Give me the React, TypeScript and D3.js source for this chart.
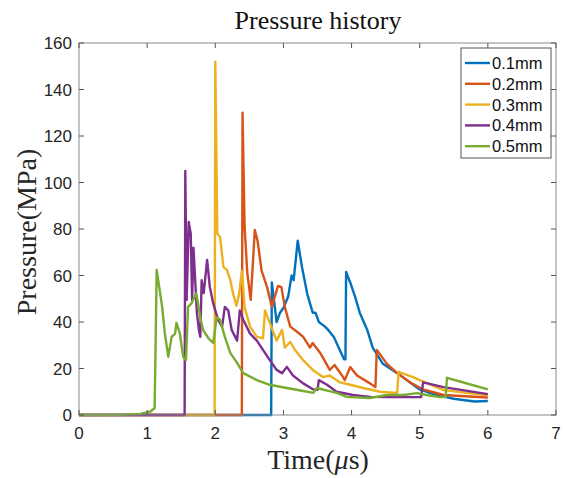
import React from 'react';
import * as d3 from 'd3';

// series: [time (us), pressure (MPa)]
const p01: [number, number][] = [
  [0, 0], [2.82, 0], [2.83, 57], [2.9, 40], [2.95, 44], [3.0, 46], [3.07, 51], [3.12, 60], [3.15, 58],
  [3.21, 75], [3.27, 64], [3.35, 52], [3.43, 44], [3.47, 44], [3.52, 40], [3.61, 38], [3.66, 36.5],
  [3.74, 33.6], [3.81, 29], [3.89, 24], [3.91, 24], [3.92, 61.5], [3.98, 57], [4.05, 51], [4.12, 44],
  [4.23, 36.6], [4.31, 29], [4.46, 22], [4.67, 18], [5.0, 11], [5.2, 9], [5.5, 7], [5.8, 5.8], [6.0, 6],
];
const p02: [number, number][] = [
  [0, 0], [2.39, 0], [2.4, 130], [2.43, 81], [2.47, 61], [2.52, 49.5], [2.58, 79.6], [2.62, 75],
  [2.68, 62], [2.76, 55], [2.83, 46.5], [2.92, 55.5], [2.97, 55], [3.02, 46.5], [3.1, 38], [3.2, 35.8],
  [3.29, 33.6], [3.39, 29], [3.43, 31], [3.54, 26.7], [3.68, 19.4], [3.75, 21.5], [3.86, 17], [3.9, 15],
  [3.98, 20.6], [4.08, 17], [4.27, 13.6], [4.35, 12], [4.37, 28], [4.52, 22], [4.67, 18], [4.86, 14],
  [5.05, 11], [5.35, 8.6], [6.0, 7.5],
];
const p03: [number, number][] = [
  [0, 0], [1.99, 0], [2.0, 152], [2.03, 78], [2.07, 76.6], [2.12, 63.6], [2.17, 62.4], [2.22, 58],
  [2.26, 52.4], [2.31, 47], [2.35, 52], [2.39, 62], [2.43, 46.5], [2.51, 38], [2.61, 33.6], [2.7, 33],
  [2.73, 45], [2.8, 39.6], [2.9, 32], [2.98, 36.6], [3.02, 29], [3.1, 31.4], [3.17, 28], [3.29, 23.6],
  [3.43, 19.4], [3.58, 16.3], [3.68, 17], [3.83, 14], [3.98, 13], [4.17, 11.6], [4.42, 10], [4.6, 9.6],
  [4.67, 9.6], [4.69, 18.6], [4.9, 16.3], [5.0, 15], [5.35, 10.7], [6.0, 8.5],
];
const p04: [number, number][] = [
  [0, 0], [1.55, 0], [1.56, 105], [1.58, 49.5], [1.61, 83], [1.64, 78], [1.66, 49.5], [1.68, 72],
  [1.73, 44], [1.76, 36.6], [1.78, 33.6], [1.8, 58], [1.83, 52.4], [1.85, 58], [1.88, 66.7], [1.92, 55],
  [1.97, 48], [2.04, 41], [2.1, 38], [2.14, 46.5], [2.19, 45], [2.24, 36.6], [2.32, 32], [2.36, 45],
  [2.41, 41], [2.51, 35], [2.61, 32], [2.7, 28], [2.8, 23.6], [2.9, 19.4], [2.98, 18], [3.05, 20.7],
  [3.14, 17], [3.29, 13.6], [3.44, 11], [3.5, 10.8], [3.52, 15], [3.64, 13], [3.78, 10], [4.02, 8.6],
  [4.27, 7.8], [4.56, 7.7], [4.9, 7.7], [5.02, 7.7], [5.05, 14], [5.35, 12], [6.0, 9],
];
const p05: [number, number][] = [
  [0, 0], [0.6, 0.1], [0.9, 0.5], [1.05, 1.5], [1.11, 3], [1.14, 62.4], [1.22, 46.5], [1.26, 35],
  [1.31, 25], [1.36, 33.6], [1.41, 35], [1.43, 39.6], [1.48, 35], [1.53, 25], [1.57, 23.6], [1.6, 46.5],
  [1.65, 48], [1.72, 52.4], [1.78, 42], [1.82, 36.6], [1.9, 33], [1.97, 31], [2.02, 42], [2.07, 41],
  [2.14, 33.6], [2.22, 26.7], [2.32, 22.4], [2.41, 18], [2.61, 15], [2.8, 13], [3.05, 11.6], [3.29, 10.3],
  [3.44, 9.5], [3.49, 11.6], [3.78, 9.5], [3.93, 7.8], [4.27, 7.3], [4.52, 8.6], [4.76, 8.6], [4.96, 9.4],
  [5.1, 8.6], [5.3, 7.7], [5.38, 7.7], [5.4, 16], [5.59, 14.4], [6.0, 11],
];

const seriesNames = ['0.1mm', '0.2mm', '0.3mm', '0.4mm', '0.5mm'];
const seriesData = [p01, p02, p03, p04, p05];
const colors = ['#0072BD', '#D95319', '#EDB120', '#7E2F8E', '#77AC30'];
const xTicks = [0, 1, 2, 3, 4, 5, 6, 7];
const yTicks = [0, 20, 40, 60, 80, 100, 120, 140, 160];

const W = 565;
const H = 478;
const left = 79, right = 556, top = 43, bottom = 415;

export default function App() {
  const x = d3.scaleLinear().domain([0, 7]).range([left, right]);
  const y = d3.scaleLinear().domain([0, 160]).range([bottom, top]);
  const line = d3.line<[number, number]>().x(d => x(d[0])).y(d => y(d[1]));
  const axisColor = '#262626';
  const tickFont = '"Liberation Sans", Arial, sans-serif';
  const serif = '"Liberation Serif", "Times New Roman", serif';

  return (
    <svg width={W} height={H} style={{ position: 'absolute', left: 0, top: 0, background: '#fff' }}>
      {/* plotted lines */}
      {seriesData.map((s, i) => (
        <path key={i} d={line(s) || ''} fill="none" stroke={colors[i]} strokeWidth={2.4} strokeLinejoin="round" />
      ))}

      {/* axes box */}
      <rect x={left} y={top} width={right - left} height={bottom - top} fill="none" stroke="#8a8a8a" strokeWidth={1} />

      {/* x ticks */}
      {xTicks.map(t => (
        <g key={'x' + t}>
          <line x1={x(t)} x2={x(t)} y1={bottom} y2={bottom - 5} stroke="#555" />
          <line x1={x(t)} x2={x(t)} y1={top} y2={top + 5} stroke="#555" />
          <text x={x(t)} y={bottom + 24} textAnchor="middle" fontFamily={tickFont} fontSize={17} fill={axisColor}>{t}</text>
        </g>
      ))}

      {/* y ticks */}
      {yTicks.map(t => (
        <g key={'y' + t}>
          <line x1={left} x2={left + 5} y1={y(t)} y2={y(t)} stroke="#555" />
          <line x1={right} x2={right - 5} y1={y(t)} y2={y(t)} stroke="#555" />
          <text x={left - 7} y={y(t) + 6} textAnchor="end" fontFamily={tickFont} fontSize={17} fill={axisColor}>{t}</text>
        </g>
      ))}

      {/* title and labels */}
      <text x={318} y={29} textAnchor="middle" fontFamily={serif} fontSize={26} fill="#111">Pressure history</text>
      <text x={318} y={469} textAnchor="middle" fontFamily={serif} fontSize={28} fill="#262626">
        Time(<tspan fontStyle="italic">μ</tspan>s)
      </text>
      <text transform={`translate(36, 232) rotate(-90)`} textAnchor="middle" fontFamily={serif} fontSize={28} fill="#262626">
        Pressure(MPa)
      </text>

      {/* legend */}
      <g>
        <rect x={461} y={48} width={90} height={110} fill="#fff" stroke="#555" strokeWidth={1} />
        {seriesNames.map((n, i) => {
          const ly = 63 + i * 20.8;
          return (
            <g key={n}>
              <line x1={465} x2={490} y1={ly} y2={ly} stroke={colors[i]} strokeWidth={2.4} />
              <text x={492} y={ly + 6} fontFamily={tickFont} fontSize={16.5} fill="#111">{n}</text>
            </g>
          );
        })}
      </g>
    </svg>
  );
}
